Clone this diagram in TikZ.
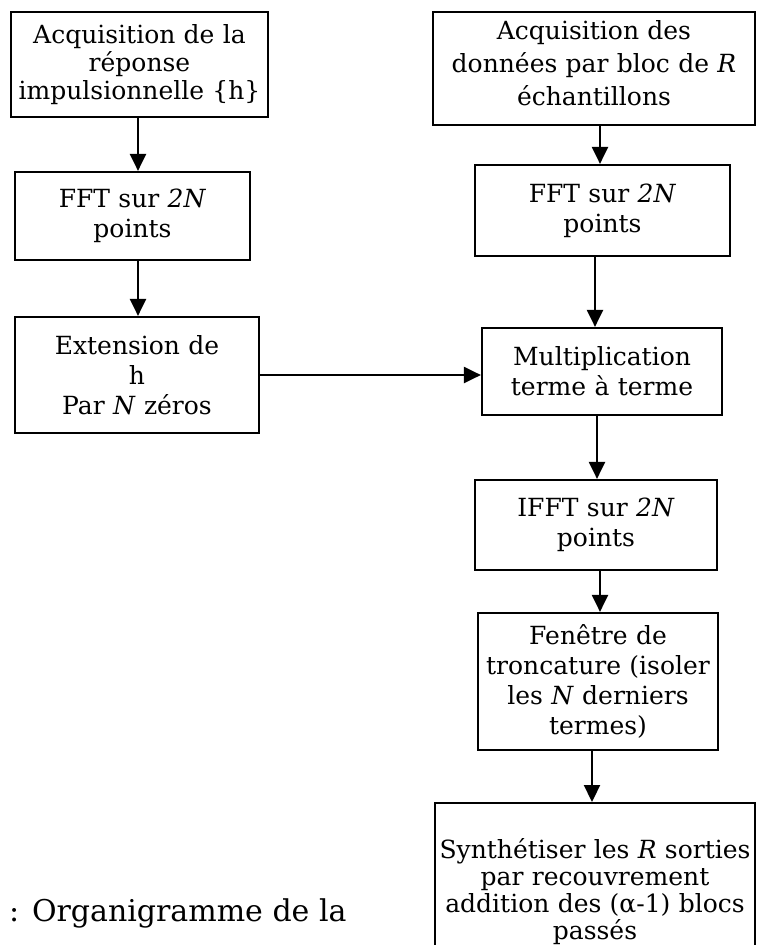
\documentclass[tikz,border=0pt]{standalone}
\usepackage{fontspec}
\setmainfont{DejaVu Serif}
\usetikzlibrary{arrows.meta}

\tikzset{
  blk/.style={draw, line width=2.2pt, rectangle, inner sep=0pt, align=center,
    font=\fontsize{25}{30}\selectfont},
  arr/.style={line width=2.2pt, -{Triangle[length=17pt,width=16pt]}},
}

\begin{document}
\begin{tikzpicture}[x=1pt,y=-1pt]
\useasboundingbox (0,0) rectangle (756,945);
\begin{scope}
\clip (0,0) rectangle (756,945);

% left column
\node[blk, minimum width=257pt, minimum height=105pt, text width=256pt,
      font=\fontsize{25}{28}\selectfont] (L1) at (139.5,64.5)
  {Acquisition de la\\ réponse\\ impulsionnelle \{h\}};
\node[blk, minimum width=235pt, minimum height=88pt, text width=230pt] (L2) at (132.5,216)
  {FFT sur \textit{2N}\\ points};
\node[blk, minimum width=244pt, minimum height=116pt, text width=240pt] (L3) at (137,375)
  {Extension de\\ h\\ Par \textit{N} zéros};

% right column
\node[blk, minimum width=322pt, minimum height=113pt, text width=320pt,
      font=\fontsize{25}{33}\selectfont] (R1) at (594,68.5)
  {Acquisition des\\ données par bloc de \textit{R}\\ échantillons\\[-22pt]\mbox{}};
\node[blk, minimum width=255pt, minimum height=91pt, text width=250pt] (R2) at (602.5,210.5)
  {FFT sur \textit{2N}\\ points};
\node[blk, minimum width=240pt, minimum height=87pt, text width=238pt] (R3) at (602,371.5)
  {Multiplication\\ terme à terme};
\node[blk, minimum width=242pt, minimum height=90pt, text width=238pt] (R4) at (596,525)
  {IFFT sur \textit{2N}\\ points};
\node[blk, minimum width=240pt, minimum height=137pt, text width=239pt] (R5) at (598,681.5)
  {Fenêtre de\\ troncature (isoler\\ les \textit{N} derniers\\ termes)};
\node[blk, minimum width=320pt, minimum height=176pt, text width=319pt, anchor=north,
      font=\fontsize{25}{27}\selectfont] (R6) at (595,802)
  {Synthétiser les \textit{R} sorties\\ par recouvrement\\ addition des (α-1) blocs\\ passés};

% caption fragment
\node[anchor=west, inner sep=0pt, font=\fontsize{30}{34}\selectfont] (cap) at (9,913)
  {: Organigramme de la};

% connectors
\draw[arr] (L1.south -| 138,0) -- (L2.north -| 138,0);
\draw[arr] (L2.south -| 138,0) -- (L3.north -| 138,0);
\draw[arr] (L3.east) -- (L3.east -| R3.west);
\draw[arr] (R1.south -| 600,0) -- (R2.north -| 600,0);
\draw[arr] (R2.south -| 595,0) -- (R3.north -| 595,0);
\draw[arr] (R3.south -| 597,0) -- (R4.north -| 597,0);
\draw[arr] (R4.south -| 600,0) -- (R5.north -| 600,0);
\draw[arr] (R5.south -| 592,0) -- (R6.north -| 592,0);
\end{scope}
\end{tikzpicture}
\end{document}
